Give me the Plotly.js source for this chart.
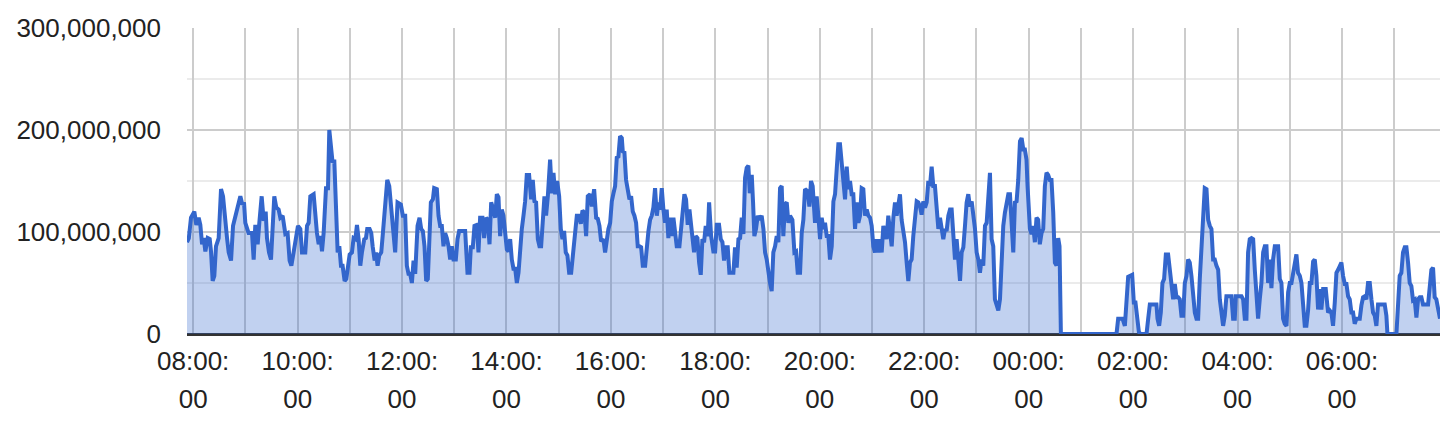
<!DOCTYPE html>
<html>
<head>
<meta charset="utf-8">
<script src="https://cdn.plot.ly/plotly-3.0.1.min.js"></script>
<style>
  html, body { margin: 0; padding: 0; background: #fff; }
  #chart { width: 1454px; height: 424px; }
</style>
</head>
<body>
<div id="chart"></div>
<script>
// Minutes after 08:00 (start of day 1) and value in millions
const minutes = [
-7.1,-5,-2.5,1.3,3.6,6.3,8.2,10.2,12.1,14,16.7,19,20.5,22.4,24.3,26.2,29.3,32,34.3,37,38.9,40.8,43.5,45.8,48.4,51.1,54.2,56.5,58.4,59.9,63.7,67.6,69.5,71.4,74.1,76,78.7,81,83.3,84.8,87.1,89.4,90.5,93.2,95.5,98.2,100.1,102.8,105.9,108.5,110.8,
112.8,115.4,120.4,123.1,125,128.8,130.8,132.7,134.6,138.4,140.3,142.2,144.2,146.1,148,149.9,152.6,154.9,156.4,158.3,160.2,162.1,163.3,166,167.9,169.8,171.7,174,175.9,177.8,179.8,182.4,184.3,186.3,188.2,190.1,192,193.9,196.6,198.5,200,202.7,204.6,206.2,208.5,210,211.9,213.8,216.1,218,220.7,223,225.3,227.2,229.1,
232.1,234.8,238.6,240.9,243.6,245.5,247.4,249.3,251.3,253.2,255.1,257.8,260.1,262,263.9,265.8,267.7,269.6,271.2,273.1,275.4,276.9,280,281.9,283.8,285.7,287.6,289.5,291.4,293.4,295.3,297.2,299.1,301.8,303.7,305.6,308.7,312.5,315.2,317.5,319,321.3,323.2,325.9,327.8,329.7,332.4,334.3,336.6,338.5,340.5,342.4,345,347,348.9,
350.8,352.7,354.6,356.5,358.5,360.4,362.3,364.2,366.1,368,370,371.9,373.8,375.7,377.6,379.5,381.4,383.3,386,388.3,390.2,392.1,394,396,397.9,399.8,401.7,403.6,405.5,407.5,410.1,412.1,414,415.9,418.2,420.5,422.4,424.3,426.2,428.1,430,432,434.3,436.9,438.8,440.8,443.4,445.4,447.3,449.6,451.5,453.4,456.1,458,460.7,463,464.9,466.8,468.7,471.4,
473.3,475.2,477.1,479.1,481,482.9,484.8,486.7,488.6,490.5,492.5,493.6,495.5,497.4,499.3,501.3,503.2,505.1,507,508.9,510.8,512.7,514.7,516.6,519.3,521.2,523.1,525,526.9,528.8,530.7,532.7,534.6,536.5,538.4,540.3,542.2,544.1,546,548,549.9,551.8,553.7,555.6,558.7,560.6,562.5,564.4,566.3,568.2,570.2,572.1,574,575.5,577.4,579.4,581.3,583.2,585.1,587,588.9,591.2,
592.8,595.1,597.7,599.7,601.6,604.2,606.2,608.1,610,612.3,614.2,616.1,620.7,622.6,624.5,626.5,628.4,630.3,632.2,634.1,636,637.9,639.5,641.8,643.3,644.8,646.7,648.7,650.6,653.2,655.2,657.1,659,660.9,662.8,664.7,666.6,668.6,670.5,672.4,674.3,676.2,678.1,680,682,683.9,685.8,688.5,690.8,692.7,694.6,697.3,699.2,701.1,703,706.1,708,709.9,711.8,
714.5,716.4,718.3,720.3,722.2,724.1,726,727.9,729.8,731.7,733.7,735.6,737.5,739.4,741.3,743.2,745.1,747.1,749,750.9,752.8,754.7,756.6,758.5,760.5,762.4,764.3,766.2,768.1,770,771.9,773.9,775.8,777.7,779.6,781.5,783.4,785.3,787.2,789.2,791.1,793,794.9,796.8,798.7,800.6,802.6,804.5,806.4,808.3,810.2,812.1,814,816,817.9,819.8,821.7,823.6,825.5,827.4,829.4,831.3,
833.2,835.1,837,838.9,840.9,842.8,844.7,846.6,848.5,850.4,852.3,854.3,856.2,858.1,860,861.9,863.8,865.7,867.7,869.6,871.5,873.4,875.3,877.2,879.1,881.1,883,884.9,886.8,888.7,890.6,892.5,894.5,896.4,898.3,900.2,902.1,904,905.9,907.8,909.8,911.7,913.6,915.5,917.4,919.3,921.2,923.2,925.1,927,928.9,930.8,932.7,934.6,936.6,938.5,940.4,942.3,944.2,946.1,948,950,951.9,953.8,
955.6,957.5,958.7,961.4,963.3,965.2,967.1,969,970.9,972.8,974.8,976.7,978.6,980.5,982.4,984.3,986.2,988.2,990.1,992,993.9,995.4,997,1060.9,1062.8,1067.8,1070.5,1072.4,
1074.3,1078.9,1080.8,1082.7,1084.6,1086.6,1088.5,1095.4,1097.3,1099.2,1103,1106.8,1108,1109.9,1111.8,1113.7,1115.6,1117.6,1120.2,1122.2,1124.1,1126,1127.9,1129.8,1131.7,1133.6,1135.5,1137.5,1139.4,1141.3,1143.2,1145.1,1147,1148.9,1150.9,1152.8,1154.7,1156.6,1158.5,1160.4,1162.3,1164.3,1166.2,1168.1,1170,1171.9,1173.8,1175.7,1177.7,1179.6,1181.5,1183.4,1185.3,1187.2,1193,
1194.9,1196.8,1198,1204.5,1206.4,1208.3,1210.2,1212.1,1214,1216,1217.9,1219.8,1221.7,1223.6,1225.5,1227.4,1229.4,1231.3,1233.2,1235.1,1237,1238.9,1240.8,1242.8,1246.6,1248.5,1250.4,1252.3,1254.2,1256.2,1258.1,1260,1261.9,1263.8,1265.7,1267.6,1269.5,1271.5,1273.4,1275.3,1277.2,1279.1,1281,1283,1284.9,1286.8,1288.7,1290.6,1292.5,1294.4,1296.3,1298.3,1301.3,1304,1305.9,1307.8,1309.7,1311.7,1313.6,
1315.5,1317.4,1319.3,1321.2,1323.2,1325.1,1327,1328.9,1330.8,1332.7,1334.6,1336.6,1340.4,1342.3,1344.2,1346.1,1348,1349.9,1351.9,1353.8,1355.7,1357.6,1359.5,1361.4,1369.1,1371,1372.2,1382.5,1384.4,1386.3,1388.2,1390.1,1392.1,1394,1395.9,1397.8,1399.7,1401.6,1403.5,1405.5,1407.4,1409.3,1411.2,1413.1,1418.9,1420.8,1422.7,1424.6,1426.5,1428.4,1430.4,1432.6
];
const valuesM = [
90,94,114,120,107,114,107,88,94,81,94,93,81,52,57,86,94,142,135,103,94,80,72,106,116,124,135,127,129,109,99,99,73,107,88,109,135,111,120,94,80,73,96,135,124,122,114,116,98,99,72,
67,80,106,103,80,80,106,109,135,137,116,99,88,96,81,99,143,143,200,178,168,171,145,80,86,67,67,52,54,67,78,80,94,93,107,93,67,80,93,94,103,103,99,86,72,80,67,77,80,99,122,151,145,129,106,
80,129,127,116,116,67,59,59,50,72,59,106,114,103,101,86,52,54,88,129,132,143,142,116,106,106,86,99,94,86,73,86,73,73,93,101,101,101,60,60,85,85,106,107,80,114,114,94,114,112,88,129,122,114,137,
134,96,122,116,99,83,81,93,73,64,64,50,60,85,103,116,130,156,156,132,151,130,129,93,86,86,112,135,116,135,171,138,158,137,150,135,103,93,101,80,77,60,60,86,96,116,116,108,121,119,96,135,137,125,142,114,113,106,91,93,
80,93,103,109,130,138,145,173,174,194,192,179,178,151,143,132,135,120,116,109,86,86,85,67,67,90,101,112,116,124,143,116,129,122,143,122,109,122,94,114,96,114,103,86,86,103,117,137,132,107,122,106,96,80,96,94,70,58,93,90,106,96,
129,96,81,81,107,107,93,90,72,85,85,60,60,85,65,93,94,114,98,153,163,165,138,156,129,96,103,116,112,116,103,80,73,60,50,42,80,86,96,90,143,145,96,127,129,109,116,112,80,81,60,60,99,112,142,140,125,150,145,
109,135,116,93,114,103,109,96,96,73,86,130,137,168,186,186,164,145,132,164,142,150,137,137,103,129,109,116,143,142,116,122,116,114,106,86,80,93,80,93,80,106,101,93,116,103,86,114,129,116,129,137,112,99,90,70,52,70,73,96,112,130,
129,125,117,130,124,129,150,145,164,145,145,122,103,114,103,93,103,101,116,122,122,93,73,93,70,52,80,85,106,129,137,125,130,116,103,80,73,60,73,67,106,109,142,158,93,86,34,29,23,34,70,106,119,129,137,137,99,80,129,130,151,189,192,181,
181,171,145,103,98,106,90,114,112,88,99,103,145,158,156,151,151,119,70,67,94,86,0,0,15,15,8,28,
56,58,31,31,11,2,0,0,15,29,29,29,15,8,21,50,54,78,78,63,50,34,49,36,36,34,18,18,50,57,73,70,57,34,21,15,15,54,86,116,143,142,112,106,103,73,73,67,63,34,18,8,18,37,37,
15,15,37,37,34,15,15,80,93,94,93,63,34,15,34,50,80,86,86,50,73,45,73,86,86,54,50,15,10,8,41,50,50,60,73,78,60,57,50,28,8,8,23,50,50,71,73,57,24,44,24,44,44,21,23,21,8,31,60,
63,67,70,57,49,49,37,34,21,21,10,15,15,28,36,37,34,50,50,34,21,18,8,29,29,18,0,0,37,57,60,80,85,85,70,50,47,33,34,16,34,36,36,29,29,47,63,65,36,34,23,15
];
// Hour tick positions (hours after midnight of day 1) and two-line labels
const tickHours = [8,9,10,11,12,13,14,15,16,17,18,19,20,21,22,23,24,25,26,27,28,29,30,31];
const tickLine1 = ["08:00:","","10:00:","","12:00:","","14:00:","","16:00:","","18:00:","","20:00:","","22:00:","","00:00:","","02:00:","","04:00:","","06:00:",""];
const tickLine2 = ["00","","00","","00","","00","","00","","00","","00","","00","","00","","00","","00","","00",""];

const x = minutes.map(m => 8 + m / 60);
const y = valuesM.map(v => v * 1e6);
const xRange = [x[0], x[x.length - 1]];

const trace = {
  x: x, y: y,
  type: 'scatter', mode: 'lines',
  line: { color: '#3366cc', width: 4 },
  fill: 'tozeroy', fillcolor: 'rgba(51,102,204,0.3)',
  hoverinfo: 'skip'
};
const helper = { x: [], y: [], xaxis: 'x2', type: 'scatter', mode: 'lines', hoverinfo: 'skip', showlegend: false };

const font = { family: 'Liberation Sans, Arial, sans-serif', size: 26, color: '#222' };
const layout = {
  width: 1454, height: 424,
  margin: { l: 187, r: 14, t: 28, b: 90 },
  paper_bgcolor: '#fff', plot_bgcolor: '#fff',
  showlegend: false,
  font: font,
  xaxis: {
    range: xRange,
    tickmode: 'array', tickvals: tickHours, ticktext: tickLine1,
    showgrid: true, gridcolor: '#cccccc', gridwidth: 2,
    zeroline: false, showline: false, ticks: '',
    ticklabelstandoff: 9,
    tickfont: font
  },
  xaxis2: {
    overlaying: 'x', side: 'bottom', anchor: 'y',
    range: xRange,
    tickmode: 'array', tickvals: tickHours, ticktext: tickLine2,
    showgrid: false, zeroline: false, showline: false, ticks: '',
    ticklabelstandoff: 47,
    tickfont: font
  },
  yaxis: {
    range: [0, 300e6],
    tickmode: 'linear', tick0: 0, dtick: 100e6, tickformat: ',d',
    showgrid: true, gridcolor: '#cccccc', gridwidth: 2,
    minor: { dtick: 50e6, showgrid: true, gridcolor: '#ebebeb', gridwidth: 2 },
    zeroline: true, zerolinecolor: '#333333', zerolinewidth: 3,
    showline: false, ticks: '',
    ticklabelstandoff: 25,
    tickfont: font
  }
};

Plotly.newPlot('chart', [trace, helper], layout, { staticPlot: true, displayModeBar: false });
</script>
</body>
</html>
